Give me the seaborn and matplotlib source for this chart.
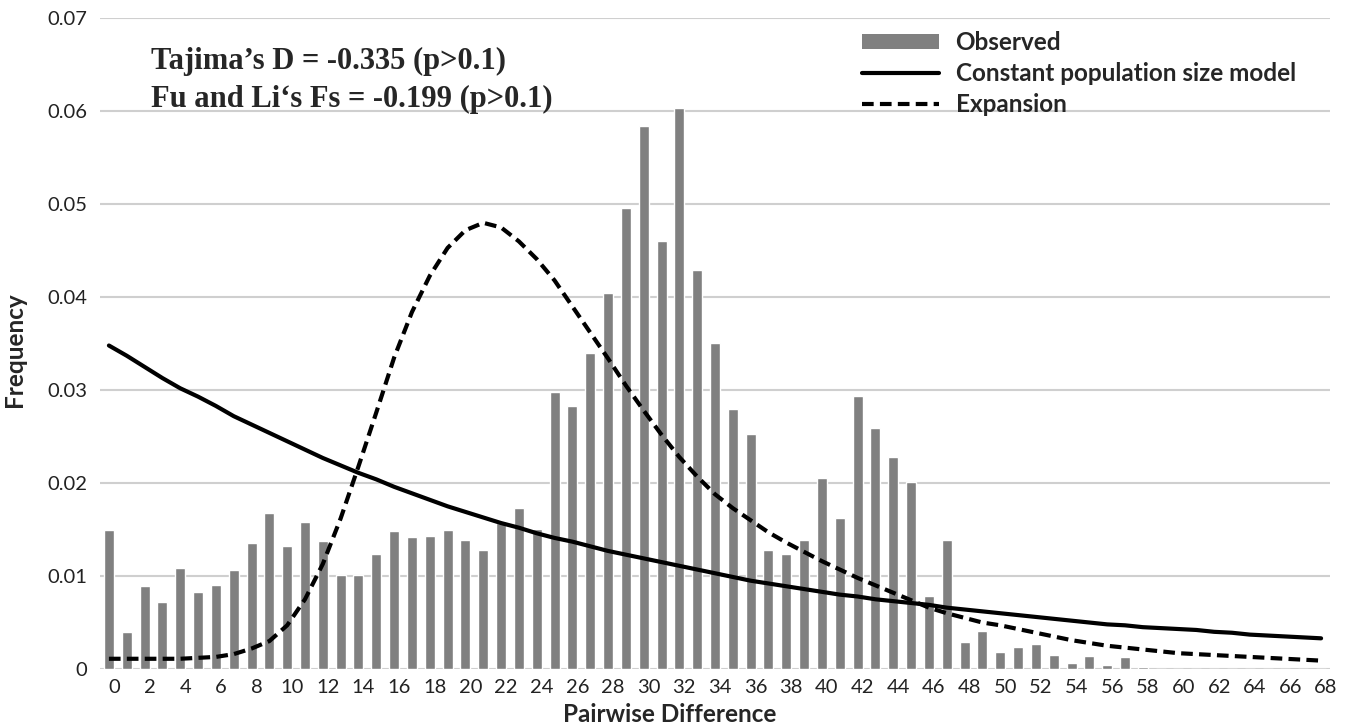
import numpy as np
import pandas as pd
import matplotlib
matplotlib.use('Agg')
import matplotlib.pyplot as plt
import matplotlib.transforms as mtransforms
from matplotlib.patches import Patch
from matplotlib.lines import Line2D
import seaborn as sns

# pairwise differences 0..68
diffs = list(range(0, 69))

# observed frequencies (bars)
observed = [0.0150, 0.0040, 0.0089, 0.0072, 0.0109, 0.0083, 0.0090, 0.0106, 0.0136, 0.0168,
            0.0132, 0.0158, 0.0138, 0.0101, 0.0101, 0.0124, 0.0148, 0.0142, 0.0143, 0.0149,
            0.0139, 0.0128, 0.0157, 0.0173, 0.0151, 0.0298, 0.0283, 0.0340, 0.0405, 0.0496,
            0.0584, 0.0460, 0.0604, 0.0429, 0.0351, 0.0280, 0.0253, 0.0128, 0.0124, 0.0139,
            0.0206, 0.0162, 0.0294, 0.0259, 0.0228, 0.0201, 0.0078, 0.0139, 0.0029, 0.0041,
            0.0018, 0.0024, 0.0027, 0.0015, 0.0006, 0.0014, 0.0004, 0.0013, 0.0002, 0.0,
            0.0, 0.0, 0.0, 0.0, 0.0, 0.0, 0.0, 0.0, 0.0]

# constant population size model (solid line)
constant = [0.0348, 0.0337, 0.0325, 0.0313, 0.0302, 0.0293, 0.0283, 0.0272, 0.0263, 0.0254,
            0.0245, 0.0236, 0.0227, 0.0219, 0.0211, 0.0204, 0.0196, 0.0189, 0.0182, 0.0175,
            0.0169, 0.0163, 0.0157, 0.0152, 0.0146, 0.0141, 0.0137, 0.0132, 0.0127, 0.0123,
            0.0119, 0.0115, 0.0111, 0.0107, 0.0103, 0.0099, 0.0095, 0.0092, 0.0089, 0.0086,
            0.0083, 0.0080, 0.0078, 0.0075, 0.0073, 0.0071, 0.0069, 0.0066, 0.0064, 0.0062,
            0.0060, 0.0058, 0.0056, 0.0054, 0.0052, 0.0050, 0.0048, 0.0047, 0.0045, 0.0044,
            0.0043, 0.0042, 0.0040, 0.0039, 0.0037, 0.0036, 0.0035, 0.0034, 0.0033]

# expansion model (dashed line)
expansion = [0.0011, 0.0011, 0.0011, 0.0011, 0.0011, 0.0012, 0.0013, 0.0016, 0.0022, 0.0030,
             0.0047, 0.0075, 0.0113, 0.0162, 0.0218, 0.0276, 0.0335, 0.0384, 0.0423, 0.0453,
             0.0472, 0.0480, 0.0475, 0.0460, 0.0441, 0.0418, 0.0390, 0.0362, 0.0334, 0.0305,
             0.0278, 0.0252, 0.0228, 0.0207, 0.0188, 0.0173, 0.0160, 0.0147, 0.0136, 0.0126,
             0.0116, 0.0107, 0.0098, 0.0090, 0.0082, 0.0074, 0.0066, 0.0060, 0.0055, 0.0050,
             0.0047, 0.0043, 0.0039, 0.0035, 0.0031, 0.0028, 0.0025, 0.0023, 0.0021, 0.0019,
             0.0017, 0.0016, 0.0015, 0.0014, 0.0013, 0.0012, 0.0011, 0.0010, 0.0009]

xtick_labels = [str(d) for d in range(0, 69, 2)]
yticks = [0, 0.01, 0.02, 0.03, 0.04, 0.05, 0.06, 0.07]
ytick_labels = ['0', '0.01', '0.02', '0.03', '0.04', '0.05', '0.06', '0.07']

sns.set_theme(style='white')
plt.rcParams['font.family'] = ['Lato', 'DejaVu Sans']

df = pd.DataFrame({'diff': diffs, 'observed': observed,
                   'constant': constant, 'expansion': expansion})

W, H = 1352, 727
LW = 3.0
DASH = (2.8, 1.5)
fig = plt.figure(figsize=(W / 100, H / 100), dpi=100)
ax = fig.add_axes([100 / W, 1 - 669 / H, 1230 / W, (669 - 18.3) / H])

sns.barplot(data=df, x='diff', y='observed', color='#808080', saturation=1,
            width=0.56, ax=ax, zorder=2)
sns.lineplot(x=np.arange(len(diffs)), y=df['constant'], color='black', lw=LW,
             ax=ax, zorder=3)
sns.lineplot(x=np.arange(len(diffs)), y=df['expansion'], color='black', lw=LW,
             ax=ax, zorder=3)
ax.lines[-1].set_dashes(DASH)

ax.set_xlim(-0.5, 68.5)
ax.set_ylim(0, 0.07)
ax.set_yticks(yticks)
ax.set_yticklabels(ytick_labels)
ax.set_xticks(range(0, 69, 2))
ax.set_xticklabels(xtick_labels)
ax.tick_params(axis='both', length=0, labelsize=14.5, colors='#222222')
ax.tick_params(axis='x', pad=7)
ax.tick_params(axis='y', pad=9)
offset = mtransforms.ScaledTranslation(5 / 100, 0, fig.dpi_scale_trans)
for lab in ax.get_xticklabels():
    lab.set_transform(lab.get_transform() + offset)

ax.yaxis.grid(True, color='#cfcfcf', lw=1.5, zorder=0)
ax.set_axisbelow(True)
for s in ax.spines.values():
    s.set_visible(False)

ax.set_xlabel('Pairwise Difference', fontsize=17.5, fontweight='bold', labelpad=0)
ax.set_ylabel('Frequency', fontsize=17.5, fontweight='bold', labelpad=10)
ax.xaxis.set_label_coords(670 / W, 1 - 714 / H, transform=fig.transFigure)
ax.yaxis.set_label_coords(14 / W, 1 - 350 / H, transform=fig.transFigure)
ax.xaxis.label.set_va('center')
ax.yaxis.label.set_va('center')

fig.text(151 / W, 1 - 61 / H, 'Tajima\u2019s D = -0.335 (p>0.1)', fontsize=22,
         fontweight='bold', family='Liberation Serif', va='center', ha='left')
fig.text(151 / W, 1 - 99 / H, 'Fu and Li\u2018s Fs = -0.199 (p>0.1)', fontsize=22,
         fontweight='bold', family='Liberation Serif', va='center', ha='left')

handles = [Patch(facecolor='#808080', edgecolor='none'),
           Line2D([0], [0], color='black', lw=LW),
           Line2D([0], [0], color='black', lw=LW, dashes=DASH)]
labels = ['Observed', 'Constant population size model', 'Expansion']
leg = ax.legend(handles, labels, loc='upper left',
                bbox_to_anchor=(862 / W, 1 - 31 / H), bbox_transform=fig.transFigure,
                frameon=False, prop={'weight': 'bold', 'size': 17.5},
                handlelength=3.15, handleheight=0.55, handletextpad=0.7,
                labelspacing=0.32, borderaxespad=0, borderpad=0)

fig.savefig('out.png', dpi=100, facecolor='white')
